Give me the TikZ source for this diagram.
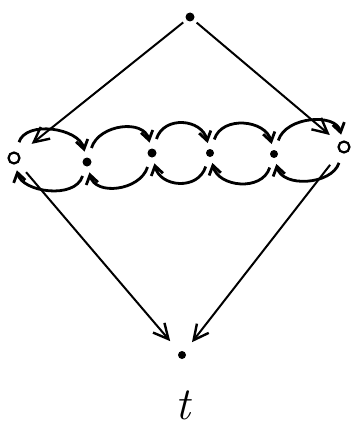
\documentclass[tikz,border=0pt]{standalone}
\usetikzlibrary{arrows.meta}
\begin{document}
\begin{tikzpicture}[x=1pt,y=-1pt,
  dot/.style={circle,fill=black,inner sep=0pt,minimum size=9pt},
  ring/.style={circle,draw=black,line width=2.2pt,inner sep=0pt,minimum size=11pt},
  edge/.style={line width=2pt,-{Straight Barb[length=15pt,width=15pt,line width=2.4pt]}},
  loop/.style={line width=2.8pt,-{Straight Barb[length=9pt,width=12pt,line width=2.8pt]}}]
\useasboundingbox (0,0) rectangle (360,444);
\node[dot] (s) at (190,17) {};
\node[ring] (a) at (14,158) {};
\node[dot] (m1) at (87,162) {};
\node[dot] (m2) at (152,153) {};
\node[dot,minimum size=8pt] (m3) at (210,153) {};
\node[dot,minimum size=8pt] (m4) at (274,154) {};
\node[ring] (b) at (344,147) {};
\node[dot,minimum size=8pt] (t) at (182,355) {};
\node[font=\fontsize{46}{46}\selectfont\itshape] (tl) at (183,405) {t};
\draw[edge,shorten <=4pt,shorten >=16pt] (s) -- (a);
\draw[edge,shorten <=4pt,shorten >=12pt] (s) -- (b);
\draw[edge,shorten <=12pt,shorten >=14pt] (a) -- (t);
\draw[edge,shorten <=16pt,shorten >=12pt] (b) -- (t);
\foreach \u/\v in {a/m1,m1/m2,m2/m3,m3/m4,m4/b}{
  \draw[loop,shorten <=10pt,shorten >=6pt] (\u) .. controls +(12,-38) and +(-8,-34) .. (\v);
  \draw[loop,shorten <=10pt,shorten >=6pt] (\v) .. controls +(-12,38) and +(8,34) .. (\u);
}
\end{tikzpicture}
\end{document}
